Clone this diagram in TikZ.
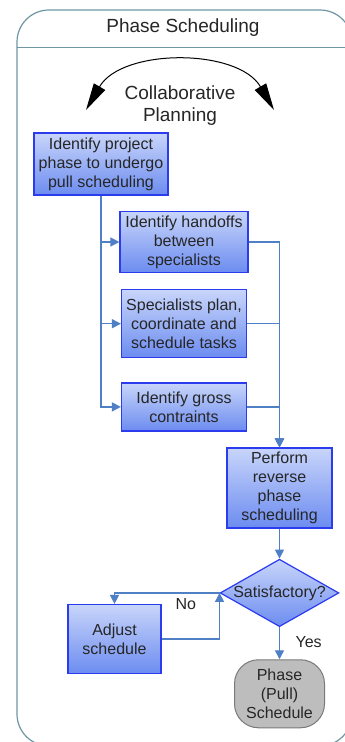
\documentclass[tikz,border=0pt]{standalone}
\usepackage{fontspec}
\setmainfont{Liberation Sans}
\usetikzlibrary{positioning, arrows.meta, shapes.geometric}
\definecolor{BoxTop}{HTML}{C8D5FA}
\definecolor{BoxBottom}{HTML}{6C8CF0}
\definecolor{BoxEdge}{HTML}{2B3BEE}
\definecolor{LinkBlue}{HTML}{4F7FC4}
\definecolor{FrameTeal}{HTML}{6F97A3}
\definecolor{TermGray}{HTML}{BDBDBD}
\definecolor{TermEdge}{HTML}{7A7A7A}

\begin{document}
\begin{tikzpicture}[x=1pt, y=-1pt,
        node distance = 16pt and 20pt, % Vertical and horizontal spacing
        block/.style    = {rectangle, draw=BoxEdge, line width=1.2pt, top color=BoxTop, bottom color=BoxBottom,
                           align=center, inner sep=2pt, text=black!85, font=\fontsize{16}{19}\selectfont},
        decision/.style = {diamond, draw=BoxEdge, line width=1.2pt, top color=BoxTop, bottom color=BoxBottom,
                           aspect=1.76, inner sep=0pt, text=black!85, font=\fontsize{16}{19}\selectfont},
        terminal/.style = {rectangle, rounded corners=24pt, draw=TermEdge, line width=1pt, fill=TermGray,
                           align=center, text=black!85, font=\fontsize{16}{19}\selectfont},
        tag/.style      = {text=black!85, font=\fontsize{16}{19}\selectfont},
        link/.style     = {draw=LinkBlue, line width=1.4pt},
        arrow/.style    = {link, -{Triangle[length=9pt, width=9pt]}} % Style for the arrows
    ]

    \clip (0,0) rectangle (345,742);
    \fill[white] (0,0) rectangle (345,742);

    % --- Frame and header ---
    \draw[FrameTeal, line width=1.2pt, rounded corners=32pt] (17,10) rectangle (352,746);
    \draw[FrameTeal, line width=1pt] (17,47) -- (352,47);
    \node[tag, font=\fontsize{19}{22}\selectfont] (title) at (183,28) {Phase Scheduling};

    % --- Collaborative planning arc ---
    \coordinate (arcL) at (86,110);
    \coordinate (arcR) at (274,110);
    \draw[line width=1pt, {Triangle[length=27pt, width=13pt]}-{Triangle[length=27pt, width=13pt]}]
        (arcL) .. controls (122,48) and (238,48) .. (arcR);
    \node[tag, align=center, font=\fontsize{19}{22}\selectfont] (collab) at (180,106) {Collaborative\\Planning};

    % --- Steps ---
    \node[block, minimum width=134pt, minimum height=62pt] (ident) at (101,164) {Identify project\\phase to undergo\\pull scheduling};
    \node[block, minimum width=128pt, minimum height=61pt] (handoff) at (184,242) {Identify handoffs\\between\\specialists};
    \node[block, minimum width=125pt, minimum height=68pt, below=16pt of handoff] (plan) {Specialists plan,\\coordinate and\\schedule tasks};
    \node[block, minimum width=125pt, minimum height=48pt, below=24pt of plan] (gross) {Identify gross\\contraints};
    \node[block, minimum width=105pt, minimum height=80pt] (reverse) at (279.5,488) {Perform\\reverse\\phase\\scheduling};

    % Decision
    \node[decision, minimum width=118pt, minimum height=67pt, below=30pt of reverse] (satis) {Satisfactory?};
    \node[block, minimum width=93pt, minimum height=69pt] (adjust) at (114.5,639) {Adjust\\schedule};
    \node[terminal, minimum width=90pt, minimum height=68pt, below=32pt of satis] (phase) {Phase\\(Pull)\\Schedule};

    % Arrows
    \draw[arrow] (ident.south) |- (handoff.west);
    \draw[arrow] (ident.south) |- (plan.west);
    \draw[arrow] (ident.south) |- (gross.west);

    \draw[arrow] (handoff.east) -| (reverse.north);
    \draw[arrow] (plan.east) -| (reverse.north);
    \draw[arrow] (gross.east) -| (reverse.north);

    \draw[arrow] (reverse) -- (satis);
    \draw[arrow] (satis.west) -| node[tag, pos=0.16, below=2pt] {No} (adjust.north);
    \draw[arrow] (adjust.east) -| (satis.west);
    \draw[arrow] (satis) -- node[tag, right=12pt, pos=0.45] {Yes} (phase);

\end{tikzpicture}
\end{document}
